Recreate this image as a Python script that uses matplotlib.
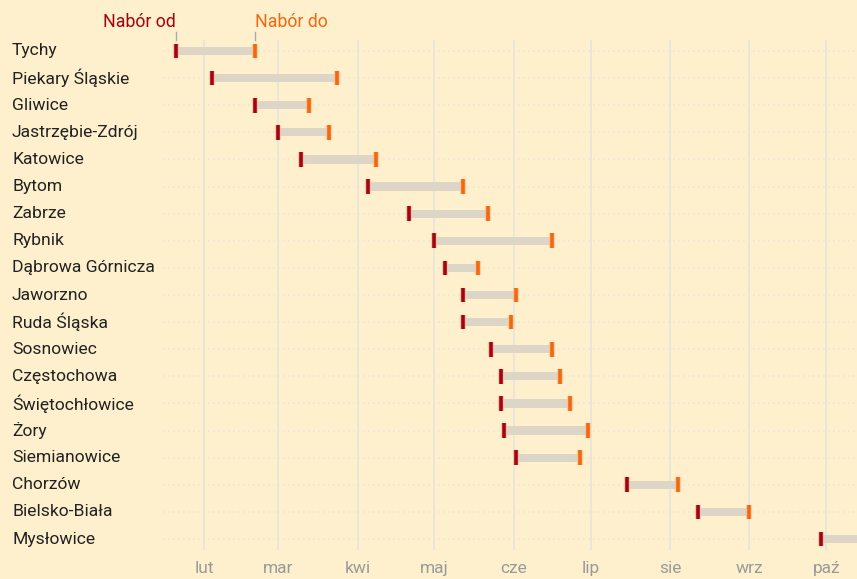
import matplotlib
matplotlib.use("Agg")
import matplotlib.pyplot as plt
import matplotlib.dates as mdates
import matplotlib.transforms as mtransforms
import matplotlib.patheffects as pe
import numpy as np
import datetime as dt

plt.rcParams['font.family'] = ['Roboto', 'DejaVu Sans']

cities = ["Tychy", "Piekary Śląskie", "Gliwice", "Jastrzębie-Zdrój", "Katowice",
          "Bytom", "Zabrze", "Rybnik", "Dąbrowa Górnicza", "Jaworzno",
          "Ruda Śląska", "Sosnowiec", "Częstochowa", "Świętochłowice", "Żory",
          "Siemianowice", "Chorzów", "Bielsko-Biała", "Mysłowice"]
start_dates = ["2020-01-21", "2020-02-04", "2020-02-21", "2020-03-01", "2020-03-10",
               "2020-04-05", "2020-04-21", "2020-05-01", "2020-05-05", "2020-05-12",
               "2020-05-12", "2020-05-23", "2020-05-27", "2020-05-27", "2020-05-28",
               "2020-06-02", "2020-07-15", "2020-08-12", "2020-09-29"]
end_dates = ["2020-02-21", "2020-03-24", "2020-03-13", "2020-03-21", "2020-04-08",
             "2020-05-12", "2020-05-22", "2020-06-16", "2020-05-18", "2020-06-02",
             "2020-05-31", "2020-06-16", "2020-06-19", "2020-06-23", "2020-06-30",
             "2020-06-27", "2020-08-04", "2020-09-01", "2020-10-31"]
month_labels = ["lut", "mar", "kwi", "maj", "cze", "lip", "sie", "wrz", "paź"]
month_ticks = ["2020-02-01", "2020-03-01", "2020-04-01", "2020-05-01", "2020-06-01",
               "2020-07-01", "2020-08-01", "2020-09-01", "2020-10-01"]

BG = "#FEF0CD"
RED = "#A30510"
ORANGE = "#F2680F"
BAR = "#DDD6C6"

to_num = lambda s: mdates.date2num(dt.datetime.strptime(s, "%Y-%m-%d"))
starts = np.array([to_num(s) for s in start_dates])
ends = np.array([to_num(s) for s in end_dates])
ticks = [to_num(s) for s in month_ticks]
y = np.arange(len(cities))

fig = plt.figure(figsize=(8.57, 5.79), dpi=100, facecolor=BG)
ax = fig.add_axes([163/857, 29/579, 1 - 163/857, 510/579])
ax.set_facecolor(BG)

ax.set_xlim(to_num("2020-01-16"), to_num("2020-10-13"))
ax.set_ylim(len(cities) - 1 + 0.405, -0.405)

# vertical month grid
for t in ticks:
    ax.axvline(t, color="#EAE5DA", lw=1.4, zorder=0)
# dotted row lines
for yi in y:
    ax.axhline(yi, color="#EEE6D6", lw=1.2, ls=(0, (1, 2)), zorder=0.5)

ax.barh(y, ends - starts, left=starts, height=0.3, color=BAR, zorder=1)
ax.vlines(starts, y - 0.27, y + 0.27, color=RED, lw=2.6, zorder=3,
          path_effects=[pe.withStroke(linewidth=4.5, foreground="#F5B9A0", alpha=0.7)])
ax.vlines(ends, y - 0.27, y + 0.27, color=ORANGE, lw=2.6, zorder=3,
          path_effects=[pe.withStroke(linewidth=4.5, foreground="#F8C090", alpha=0.7)])

ax.set_xticks(ticks)
ax.set_xticklabels(month_labels, color="#9A9A9A", fontsize=12.5)
ax.tick_params(axis="x", length=0, pad=8)
ax.set_yticks([])
for s in ax.spines.values():
    s.set_visible(False)

trans = mtransforms.blended_transform_factory(fig.transFigure, ax.transData)
for yi, c in zip(y, cities):
    ax.text(12/857, yi, c, transform=trans, ha="left", va="center",
            fontsize=12.6, color="#222222", clip_on=False)

# header annotations
ax.plot([starts[0], starts[0]], [-0.7, -0.42], color="#AAAAAA", lw=1, clip_on=False)
ax.plot([ends[0], ends[0]], [-0.7, -0.42], color="#AAAAAA", lw=1, clip_on=False)
ax.text(starts[0], -1.07, "Nabór od", ha="right", va="center", color=RED,
        fontsize=12.8, clip_on=False)
ax.text(ends[0], -1.07, "Nabór do", ha="left", va="center", color=ORANGE,
        fontsize=12.8, clip_on=False)

fig.savefig("out.png", dpi=100, facecolor=BG)
